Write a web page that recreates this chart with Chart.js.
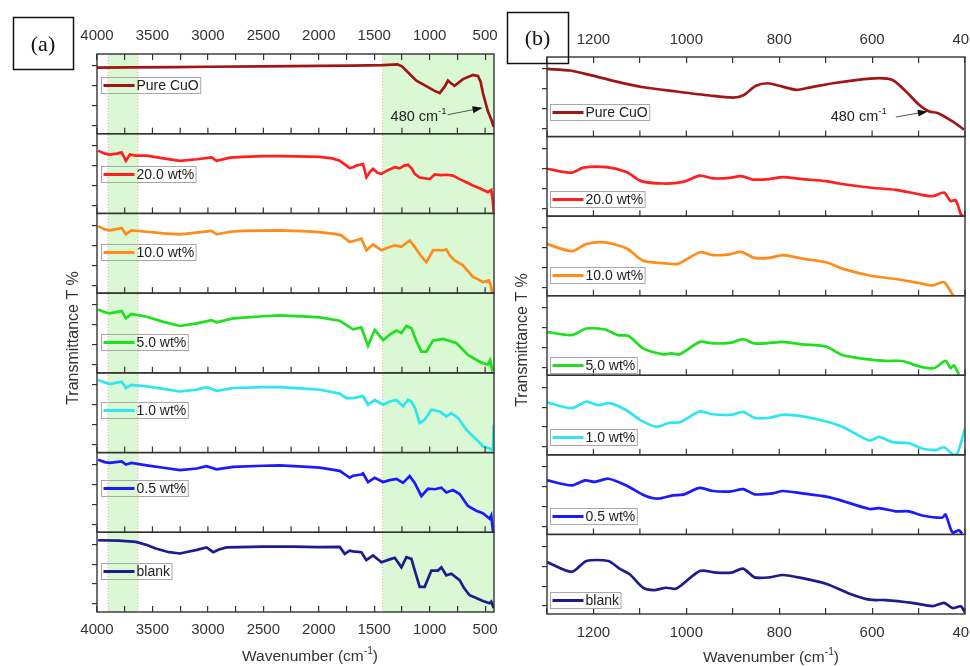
<!DOCTYPE html>
<html>
<head>
<meta charset="utf-8">
<title>FTIR spectra</title>
<script src="https://cdn.jsdelivr.net/npm/chart.js@4.4.1/dist/chart.umd.min.js"></script>
<style>
  html, body { margin: 0; padding: 0; background: #fff; overflow: hidden; }
  body { width: 970px; height: 666px; position: relative; }
  canvas { position: absolute; top: 0; }
  #chartA { left: 0; }
  #chartB { left: 505px; }
</style>
</head>
<body>
<canvas id="chartA" width="505" height="666"></canvas>
<canvas id="chartB" width="500" height="666"></canvas>
<script>
// samples, top to bottom
const seriesNames = ['Pure CuO', '20.0 wt%', '10.0 wt%', '5.0 wt%', '1.0 wt%', '0.5 wt%', 'blank'];
const seriesColors = ['#a01616', '#ff1f1f', '#ff8c1a', '#1fe01f', '#2de6f0', '#1a1aff', '#1c1c8c'];

// panel (a): [wavenumber, relative transmittance 0-100 inside its strip]
const aPure = [[4000,83],[3700,83.3],[3300,83.6],[3000,84],[2500,84.5],[2000,85],[1700,85.5],[1420,86],[1290,87],[1250,84.5],[1210,79],[1120,66.5],[1015,58.5],[960,54],[910,51],[865,59],[835,66.5],[805,63],[775,60],[700,68.5],[610,73.8],[565,72.5],[540,65],[520,51],[475,28],[445,18],[423,8.8]];
const a20 = [[3990,78.8],[3930,75],[3883,73.8],[3820,75],[3778,76.6],[3739,66],[3703,73.8],[3650,72.5],[3552,72.5],[3400,69],[3252,66],[3100,68],[2967,70.4],[2922,66],[2800,70],[2682,71],[2500,72],[2351,72],[2200,71.5],[1991,71],[1880,69],[1811,66],[1760,61],[1721,57],[1691,58],[1661,60],[1601,62],[1570,45.4],[1540,52],[1511,56],[1470,51],[1435,49.6],[1380,54],[1315,58],[1270,56.5],[1230,60],[1195,61],[1160,56],[1135,49.6],[1090,45],[1000,43],[955,48.8],[900,48],[850,48.5],[790,47.5],[730,43],[670,39],[610,35],[540,31],[475,26.6],[445,29.6],[430,15],[423,0]];
const a10 = [[3990,83.8],[3930,80],[3883,78.8],[3778,81.6],[3739,73.8],[3690,78.8],[3552,77],[3400,75],[3252,73.8],[3100,76],[2967,78],[2922,73.8],[2800,77],[2682,78],[2351,78.8],[2100,77.5],[1991,76.6],[1850,74],[1796,72.5],[1721,64],[1670,66],[1616,68.4],[1570,53.8],[1511,61],[1435,53.8],[1380,57],[1315,60],[1255,58],[1180,66],[1135,58],[1080,47],[1030,39],[970,53.8],[920,54],[880,53.8],[850,55],[820,47.5],[775,41],[700,35],[650,27],[610,20.4],[560,17],[520,14],[466,16],[450,10],[436,0]];
const a5 = [[3990,79.6],[3930,76],[3883,74.6],[3778,77.5],[3739,68.4],[3690,73.8],[3552,70.4],[3400,64],[3252,58.8],[3100,62],[2967,66],[2922,63.4],[2772,68.4],[2500,71],[2351,72],[2100,70.5],[1991,69.6],[1811,65.4],[1751,60],[1691,54.6],[1616,57],[1556,34],[1496,54],[1420,41],[1360,48],[1300,53],[1255,50],[1210,58.8],[1165,56],[1120,40],[1075,26.6],[1030,26.6],[970,40.4],[880,42.5],[820,40],[760,37.5],[700,29],[655,22.5],[600,18],[550,14],[475,10],[455,16],[436,3.8],[423,6]];
const a1 = [[3990,91],[3930,88],[3883,86],[3778,88.8],[3739,81],[3690,85],[3552,83],[3400,80],[3252,76.6],[3100,79],[3012,82],[2922,77.5],[2772,81],[2500,82],[2351,82],[2100,80],[1991,78.8],[1811,74],[1751,68.4],[1691,68.4],[1601,71],[1556,60],[1496,66],[1420,60],[1360,64],[1300,66],[1240,58],[1195,66],[1165,64],[1130,55],[1090,37],[1045,41],[985,53.8],[910,51.6],[850,45.4],[805,49.6],[745,43.4],[700,35],[670,28.8],[610,20.4],[560,14],[520,7.9],[460,5],[440,3],[430,4],[423,35]];
const a05 = [[3990,91],[3930,88],[3883,87],[3778,89],[3739,85],[3690,87],[3552,84],[3400,81],[3252,78],[3100,80],[3012,83],[2922,79],[2772,82],[2500,83.5],[2351,84],[2100,82],[1991,81],[1811,77],[1721,68.4],[1691,71],[1616,72.5],[1601,73.8],[1556,63],[1496,68.4],[1420,63],[1360,65.4],[1300,67],[1240,62],[1180,70.4],[1135,62],[1075,45.4],[1015,54.6],[955,54],[895,56],[850,50],[790,53],[730,48],[655,33],[580,27],[520,24],[460,17],[445,21],[430,2],[420,0]];
const aBlank = [[3990,90],[3800,89.5],[3650,88],[3550,84],[3471,79.6],[3350,75],[3252,73.4],[3100,78],[3012,81],[2952,75],[2900,78.5],[2832,81],[2500,82],[2231,82],[2000,81.5],[1811,81.6],[1766,73],[1721,77],[1691,76],[1616,75],[1571,65],[1511,71],[1435,62.5],[1360,66],[1315,68],[1255,56],[1210,68.8],[1165,66.6],[1130,50],[1090,31.6],[1045,31.6],[985,52],[925,52],[895,56],[850,46],[805,48],[730,40],[690,30],[640,21],[580,17.5],[520,13.8],[460,11],[445,13],[423,5]];

// panel (b): zoom 1300-400
const bPure = [[1300,85],[1250,83],[1208,77.5],[1150,69],[1093,62],[1021,56.6],[950,51.6],[900,49],[877,52],[850,63.8],[825,67],[800,63.8],[764,58.8],[735,61.6],[685,67],[635,71],[585,73.4],[556,71],[527,56.6],[499,40],[477,31.6],[459,29.6],[427,19],[402,8.8]];
const b20 = [[1300,59.6],[1247,54.6],[1222,61],[1172,61.6],[1129,55.4],[1097,44],[1050,41],[1007,43],[971,51],[943,47.5],[907,48],[882,50.4],[857,46],[821,46.6],[792,49],[750,46.6],[699,44],[671,41],[606,36],[549,33],[499,27.5],[470,25],[445,29.6],[431,19],[420,20],[409,2.5],[405,0]];
const b10 = [[1300,65],[1247,56],[1215,65],[1175,67],[1129,59.6],[1093,44],[1050,41],[1018,40],[971,54.6],[943,51],[907,52],[882,55],[853,47.5],[821,47.5],[792,51],[750,46.6],[699,42],[664,34],[606,25.4],[549,21],[499,16],[470,12.9],[445,17],[427,1.6],[424,0]];
const b5 = [[1300,54.6],[1247,50.4],[1215,58.8],[1175,57.5],[1147,50.4],[1125,49.6],[1093,33.8],[1050,26.3],[1032,27.5],[1014,26.3],[971,42],[943,40],[903,41],[878,45.4],[853,40],[825,40.4],[792,42],[750,38.8],[699,36],[664,25.4],[621,21],[571,18],[535,18],[499,11.3],[467,8.8],[442,18],[431,8.8],[424,12.5],[413,1]];
const b1 = [[1300,66],[1247,58.6],[1215,67],[1190,62.5],[1165,65],[1129,56],[1097,43],[1064,35.4],[1036,40.4],[1014,41],[971,54.6],[943,51],[903,50.4],[878,54],[853,46.6],[821,46.6],[792,50.4],[750,48.3],[699,42],[664,35.4],[606,18],[585,22.5],[556,16],[521,14.6],[492,8],[463,6],[445,9.5],[427,0.8],[417,0.8],[400,33]];
const b05 = [[1300,68],[1247,61.6],[1218,68],[1197,66],[1168,70],[1129,61.6],[1090,49],[1061,45],[1029,49],[1007,50],[971,58.4],[943,54.6],[903,54],[878,57],[853,50.4],[814,51.6],[792,54.6],[750,51.6],[699,47.5],[671,43.4],[606,32],[585,33],[549,29],[521,29],[492,23.8],[449,21],[442,25],[427,2.5],[413,5],[406,1]];
const bBlank = [[1300,65.4],[1247,53],[1215,66.6],[1168,66.6],[1143,56.6],[1122,50],[1093,33],[1071,30],[1043,33],[1021,32],[971,54],[936,52],[903,52],[878,57],[853,46],[821,46],[792,49],[750,45],[699,38],[650,25.8],[606,18],[571,17.5],[514,14],[470,10],[445,14],[427,7.5],[409,9.6],[400,2]];

// axis ticks
const aTicks = [500,750,1000,1250,1500,1750,2000,2250,2500,2750,3000,3250,3500,3750,4000];
const aTickLabels = [500,1000,1500,2000,2500,3000,3500,4000];
const bTicks = [400,500,600,700,800,900,1000,1100,1200,1300];
const bTickLabels = [400,600,800,1000,1200];
const yTicks = [10,35,60,85];

// shaded regions in (a)
const aBands = [[3900,3630],[1425,420]];
// 480 cm-1 arrow: [tail, tip] in (wavenumber, strip value)
const aArrow = [[838,23.8],[523,32.5]];
const bArrow = [[549,24.6],[480,31.6]];

Chart.defaults.font.family = '"Liberation Sans", Arial, Helvetica, sans-serif';
Chart.defaults.color = '#333';
const FONT = '"Liberation Sans", Arial, Helvetica, sans-serif';

const panelA = {
  canvas: 'chartA', series: [aPure, a20, a10, a5, a1, a05, aBlank],
  min: 420, max: 4000, ticks: aTicks, labels: aTickLabels, bands: aBands, tension: 0,
  pad: { left: 89, right: 11, top: 0, bottom: 0 }, topH: 54, bottomH: 54, topPad: 15, bottomPad: 15,
  legendDx: 4, legendY: [0.39, 0.5, 0.48, 0.61, 0.46, 0.45, 0.48],
  arrow: aArrow, arrowGap: 1, arrowDy: 2,
  tag: '(a)', tagBox: [13, 17, 60, 52], yTitle: [74, 338], xTitle: [310, 657]
};
const panelB = {
  canvas: 'chartB', series: [bPure, b20, b10, b5, b1, b05, bBlank],
  min: 400, max: 1300, ticks: bTicks, labels: bTickLabels, bands: [], tension: 0.25,
  pad: { left: 34, right: 40, top: 0, bottom: 0 }, topH: 57, bottomH: 52, topPad: 14, bottomPad: 15.7,
  legendDx: 3, legendY: [0.69, 0.78, 0.74, 0.87, 0.78, 0.77, 0.83],
  arrow: bArrow, arrowGap: 9, arrowDy: 0,
  tag: '(b)', tagBox: [2, 12, 61, 51], yTitle: [18, 340], xTitle: [266, 658]
};

function drawSup(ctx, base, sup, tail, x, y, size, align) {
  const f1 = size + 'px ' + FONT, f2 = (size * 0.66).toFixed(1) + 'px ' + FONT;
  ctx.font = f1;
  const w1 = ctx.measureText(base).width, w3 = ctx.measureText(tail).width;
  ctx.font = f2;
  const w2 = ctx.measureText(sup).width;
  const total = w1 + w2 + w3;
  const x0 = align === 'right' ? x - total : align === 'center' ? x - total / 2 : x;
  ctx.textAlign = 'left';
  ctx.textBaseline = 'middle';
  ctx.font = f1; ctx.fillText(base, x0, y);
  ctx.font = f2; ctx.fillText(sup, x0 + w1, y - size * 0.38);
  ctx.font = f1; ctx.fillText(tail, x0 + w1 + w2, y);
}

function makeDecor(p) {
  const ids = p.series.map((_, i) => 'y' + i);
  return {
    id: 'decor',
    beforeDraw(chart) {
      const { ctx, chartArea: ca, scales } = chart;
      const xs = scales.x;
      ctx.save();
      p.bands.forEach(([w1, w2]) => {
        const x1 = xs.getPixelForValue(w1), x2 = xs.getPixelForValue(w2);
        ctx.fillStyle = 'rgb(219,248,213)';
        ctx.fillRect(x1, ca.top, x2 - x1, ca.bottom - ca.top);
        ctx.strokeStyle = 'rgba(236,150,150,0.8)';
        ctx.lineWidth = 1;
        ctx.setLineDash([1, 2]);
        [x1, x2].forEach(x => {
          if (x < ca.right - 2) {
            ctx.beginPath(); ctx.moveTo(x, ca.top); ctx.lineTo(x, ca.bottom); ctx.stroke();
          }
        });
        ctx.setLineDash([]);
      });
      ctx.restore();
    },
    afterDatasetsDraw(chart) {
      const { ctx, chartArea: ca, scales } = chart;
      const xs = scales.x;
      ctx.save();
      // strip frames and inward ticks on each inner boundary
      ids.forEach((id, i) => {
        const ys = scales[id];
        if (i < ids.length - 1) {
          ctx.strokeStyle = '#333'; ctx.lineWidth = 1.2;
          xs.ticks.forEach(t => {
            const px = xs.getPixelForValue(t.value);
            ctx.beginPath(); ctx.moveTo(px, ys.bottom); ctx.lineTo(px, ys.bottom - 6); ctx.stroke();
          });
        }
        ctx.strokeStyle = '#333'; ctx.lineWidth = 1.4;
        ctx.strokeRect(ca.left, ys.top, ca.right - ca.left, ys.bottom - ys.top);
      });
      // legends inside each strip
      ids.forEach((id, i) => {
        const ys = scales[id];
        const cy = Math.round(ys.top + p.legendY[i] * (ys.bottom - ys.top)) + 0.5;
        const lx = Math.round(ca.left + p.legendDx) + 0.5;
        ctx.font = '14px ' + FONT;
        const tw = ctx.measureText(seriesNames[i]).width;
        ctx.strokeStyle = '#a8a8a8'; ctx.lineWidth = 1;
        ctx.strokeRect(lx, cy - 8, 37 + tw, 16);
        ctx.strokeStyle = seriesColors[i]; ctx.lineWidth = 3;
        ctx.beginPath(); ctx.moveTo(lx + 2, cy); ctx.lineTo(lx + 33, cy); ctx.stroke();
        ctx.fillStyle = '#222'; ctx.textAlign = 'left'; ctx.textBaseline = 'middle';
        ctx.fillText(seriesNames[i], lx + 35, cy + 1);
      });
      // 480 cm-1 arrow in the top strip
      const y0 = scales.y0;
      const [tail, tip] = p.arrow;
      const tx = xs.getPixelForValue(tail[0]), ty = y0.getPixelForValue(tail[1]);
      const hx = xs.getPixelForValue(tip[0]), hy = y0.getPixelForValue(tip[1]);
      const ang = Math.atan2(hy - ty, hx - tx);
      ctx.strokeStyle = '#555'; ctx.lineWidth = 1;
      ctx.beginPath(); ctx.moveTo(tx, ty); ctx.lineTo(hx - 8 * Math.cos(ang), hy - 8 * Math.sin(ang)); ctx.stroke();
      ctx.fillStyle = '#111';
      ctx.beginPath();
      ctx.moveTo(hx, hy);
      ctx.lineTo(hx - 10 * Math.cos(ang) + 3.5 * Math.sin(ang), hy - 10 * Math.sin(ang) - 3.5 * Math.cos(ang));
      ctx.lineTo(hx - 10 * Math.cos(ang) - 3.5 * Math.sin(ang), hy - 10 * Math.sin(ang) + 3.5 * Math.cos(ang));
      ctx.closePath(); ctx.fill();
      ctx.fillStyle = '#222';
      drawSup(ctx, '480 cm', '-1', '', tx - p.arrowGap, ty + p.arrowDy, 14.5, 'right');
      ctx.restore();
    },
    afterDraw(chart) {
      const { ctx } = chart;
      ctx.save();
      // y title
      ctx.fillStyle = '#333';
      ctx.translate(p.yTitle[0], p.yTitle[1]);
      ctx.rotate(-Math.PI / 2);
      ctx.font = '16px ' + FONT; ctx.textAlign = 'center'; ctx.textBaseline = 'middle';
      ctx.fillText('Transmittance T %', 0, 0);
      ctx.setTransform(1, 0, 0, 1, 0, 0);
      // x title
      drawSup(ctx, 'Wavenumber (cm', '-1', ')', p.xTitle[0], p.xTitle[1], 15.5, 'center');
      // panel tag
      const [bx, by, bw, bh] = p.tagBox;
      ctx.strokeStyle = '#111'; ctx.lineWidth = 1.5;
      ctx.strokeRect(bx + 0.5, by + 0.5, bw, bh);
      ctx.fillStyle = '#111';
      ctx.font = '22px "Liberation Serif", "Times New Roman", serif';
      ctx.textAlign = 'center'; ctx.textBaseline = 'middle';
      ctx.fillText(p.tag, bx + bw / 2, by + bh / 2 + 2);
      ctx.restore();
    }
  };
}

function xAxis(p, pos) {
  const top = pos === 'top';
  return {
    type: 'linear', position: pos, min: p.min, max: p.max, reverse: true,
    afterBuildTicks: s => { s.ticks = p.ticks.map(v => ({ value: v })); },
    afterFit: s => { s.height = top ? p.topH : p.bottomH; },
    ticks: {
      autoSkip: false, maxRotation: 0, minRotation: 0,
      padding: top ? p.topPad : p.bottomPad,
      font: { size: 15 }, color: '#333',
      callback: v => p.labels.includes(v) ? String(v) : ''
    },
    grid: { drawOnChartArea: false, tickLength: -6, color: '#333', lineWidth: 1.2 },
    border: { display: false }
  };
}

function yAxis() {
  return {
    type: 'linear', position: 'left', stack: 'strips', stackWeight: 1, min: 0, max: 100,
    afterBuildTicks: s => { s.ticks = yTicks.map(v => ({ value: v })); },
    afterFit: s => { s.width = 8; },
    ticks: { display: false },
    grid: { drawOnChartArea: false, tickLength: 5, color: '#333', lineWidth: 1.2 },
    border: { display: false }
  };
}

function makePanel(p) {
  const scales = { x: xAxis(p, 'bottom'), xTop: xAxis(p, 'top') };
  // stacked axes are placed top-down from the last one defined
  for (let i = p.series.length - 1; i >= 0; i--) scales['y' + i] = yAxis();
  new Chart(document.getElementById(p.canvas), {
    type: 'line',
    data: {
      datasets: p.series.map((pts, i) => ({
        label: seriesNames[i],
        data: pts.map(([x, y]) => ({ x, y })),
        borderColor: seriesColors[i],
        borderWidth: 2.7,
        pointRadius: 0,
        tension: p.tension,
        fill: false,
        xAxisID: 'x',
        yAxisID: 'y' + i
      }))
    },
    options: {
      responsive: false,
      animation: false,
      events: [],
      layout: { padding: p.pad },
      plugins: { legend: { display: false }, tooltip: { enabled: false } },
      scales
    },
    plugins: [makeDecor(p)]
  });
}

makePanel(panelA);
makePanel(panelB);
</script>
</body>
</html>
